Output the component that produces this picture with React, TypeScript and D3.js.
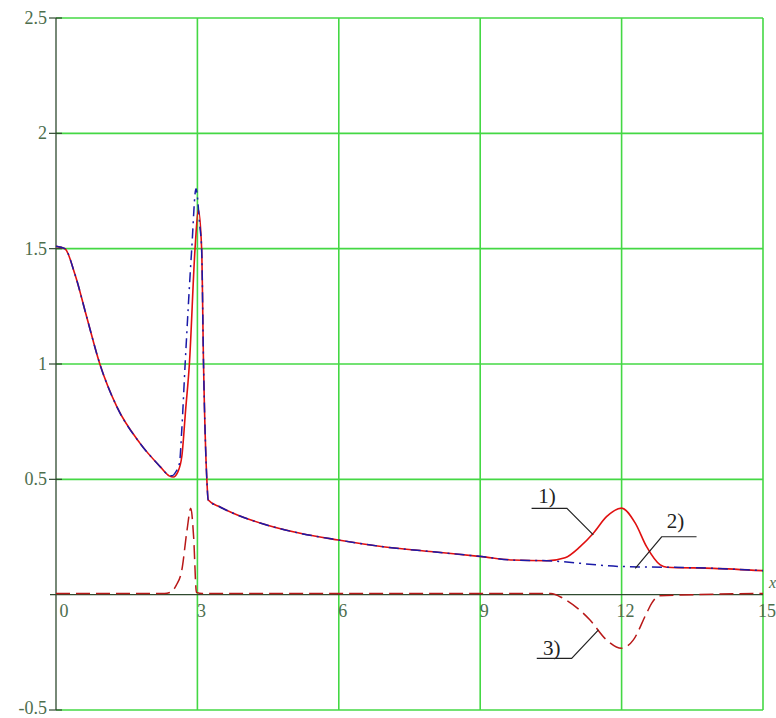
import React, { useEffect, useRef } from 'react';
import * as d3 from 'd3';

// readings, [x, y]
const curveOne: [number, number][] = [
  [0, 1.51], [0.19, 1.5], [0.4, 1.39], [0.65, 1.205], [0.93, 1.0], [1.29, 0.815],
  [1.78, 0.657], [2.21, 0.555], [2.4, 0.515], [2.49, 0.51], [2.58, 0.53], [2.67, 0.6],
  [2.75, 0.8], [2.83, 1.0], [2.95, 1.5], [3.02, 1.67], [3.09, 1.5], [3.13, 1.0],
  [3.2, 0.5], [3.23, 0.41], [3.48, 0.38], [3.76, 0.353], [4.47, 0.302], [5.18, 0.266],
  [5.99, 0.237], [6.94, 0.208], [8.0, 0.186], [9.03, 0.165], [9.7, 0.15], [10.41, 0.147],
  [10.8, 0.16], [11.12, 0.208], [11.4, 0.266], [11.68, 0.338], [12.0, 0.375], [12.29, 0.31],
  [12.53, 0.208], [12.82, 0.129], [12.96, 0.119], [13.95, 0.114], [15, 0.104]
];

const curveTwo: [number, number][] = [
  [0, 1.51], [0.19, 1.5], [0.4, 1.39], [0.65, 1.205], [0.93, 1.0], [1.29, 0.815],
  [1.78, 0.657], [2.21, 0.555], [2.38, 0.52], [2.45, 0.515], [2.55, 0.535], [2.62, 0.57],
  [2.67, 0.72], [2.74, 1.0], [2.88, 1.5], [2.97, 1.76], [3.05, 1.6], [3.09, 1.5],
  [3.13, 1.0], [3.2, 0.5], [3.23, 0.41], [3.48, 0.38], [3.76, 0.353], [4.47, 0.302],
  [5.18, 0.266], [5.99, 0.237], [6.94, 0.208], [8.0, 0.186], [9.03, 0.165], [9.7, 0.15],
  [10.41, 0.147], [12.0, 0.122], [12.96, 0.119], [13.95, 0.114], [15, 0.104]
];

const curveThree: [number, number][] = [
  [0, 0.005], [2.3, 0.005], [2.42, 0.01], [2.55, 0.04], [2.67, 0.107], [2.78, 0.28],
  [2.86, 0.375], [2.92, 0.25], [2.98, 0.01], [3.1, 0.005], [10.5, 0.005], [10.76, -0.016],
  [11.33, -0.11], [11.68, -0.196], [12.0, -0.232], [12.25, -0.196], [12.53, -0.08],
  [12.64, -0.037], [12.8, -0.005], [15, 0.005]
];

const xTicks = [0, 3, 6, 9, 12, 15];
const yTicks = [-0.5, 0.5, 1, 1.5, 2, 2.5];

// label text, text anchor, elbow, end on curve, far end of underline
const notes = [
  { text: '1)', tx: 10.23, ty: 0.397, x0: 10.09, y0: 0.374, x1: 10.84, x2: 11.4, y2: 0.259 },
  { text: '2)', tx: 12.96, ty: 0.289, x0: 13.59, y0: 0.251, x1: 12.85, x2: 12.29, y2: 0.114 },
  { text: '3)', tx: 10.33, ty: -0.261, x0: 10.2, y0: -0.276, x1: 10.94, x2: 11.51, y2: -0.153 }
];

const W = 776;
const H = 718;
const GRID = '#44d844';
const AXIS = '#2f4a2f';
const LABEL = '#4d6e4d';
const SERIF = "'Liberation Serif', 'Times New Roman', serif";

export default function App() {
  const ref = useRef<SVGSVGElement>(null);

  useEffect(() => {
    const svg = d3.select(ref.current);
    svg.selectAll('*').remove();

    const x = d3.scaleLinear().domain([0, 15]).range([56, 763]);
    const y = d3.scaleLinear().domain([-0.5, 2.5]).range([710, 18]);

    const g = svg.append('g');

    // grid
    g.selectAll('line.hgrid')
      .data(yTicks)
      .enter().append('line')
      .attr('x1', x(0)).attr('x2', x(15))
      .attr('y1', (d) => y(d)).attr('y2', (d) => y(d))
      .attr('stroke', GRID).attr('stroke-width', 1.6);

    g.selectAll('line.vgrid')
      .data(xTicks.filter((d) => d > 0))
      .enter().append('line')
      .attr('x1', (d) => x(d)).attr('x2', (d) => x(d))
      .attr('y1', y(2.5)).attr('y2', y(-0.5))
      .attr('stroke', GRID).attr('stroke-width', 1.6);

    // axes
    g.append('line')
      .attr('x1', x(0)).attr('x2', x(0))
      .attr('y1', y(2.5)).attr('y2', y(-0.5))
      .attr('stroke', AXIS).attr('stroke-width', 1.3);
    g.append('line')
      .attr('x1', x(0) - 6).attr('x2', x(15))
      .attr('y1', y(0)).attr('y2', y(0))
      .attr('stroke', AXIS).attr('stroke-width', 1.3);

    g.selectAll('line.ytick')
      .data(yTicks)
      .enter().append('line')
      .attr('x1', x(0) - 7).attr('x2', x(0) + 6)
      .attr('y1', (d) => y(d)).attr('y2', (d) => y(d))
      .attr('stroke', AXIS).attr('stroke-width', 1.2);

    g.selectAll('text.ylab')
      .data(yTicks)
      .enter().append('text')
      .attr('x', x(0) - 9)
      .attr('y', (d) => y(d) + (d === -0.5 ? 4 : 6))
      .attr('text-anchor', 'end')
      .style('font-family', SERIF)
      .style('font-size', '18px')
      .attr('fill', LABEL)
      .text((d) => (d === -0.5 ? '-0.5' : String(d)));

    g.selectAll('text.xlab')
      .data(xTicks)
      .enter().append('text')
      .attr('x', (d) => x(d) + (d === 0 ? 8 : 4))
      .attr('y', y(0) + 22)
      .attr('text-anchor', 'middle')
      .style('font-family', SERIF)
      .style('font-size', '18px')
      .attr('fill', LABEL)
      .text((d) => String(d));

    g.append('text')
      .attr('x', x(15) + 6)
      .attr('y', y(0) - 7)
      .style('font-family', SERIF)
      .style('font-size', '16px')
      .style('font-style', 'italic')
      .attr('fill', LABEL)
      .text('x');

    const line = d3.line<[number, number]>()
      .x((d) => x(d[0]))
      .y((d) => y(d[1]))
      .curve(d3.curveMonotoneX);

    g.append('path')
      .attr('d', line(curveThree))
      .attr('fill', 'none')
      .attr('stroke', '#b81818')
      .attr('stroke-width', 1.5)
      .attr('stroke-dasharray', '14,6');

    g.append('path')
      .attr('d', line(curveOne))
      .attr('fill', 'none')
      .attr('stroke', '#e01010')
      .attr('stroke-width', 1.6);

    g.append('path')
      .attr('d', line(curveTwo))
      .attr('fill', 'none')
      .attr('stroke', '#1a1aa8')
      .attr('stroke-width', 1.5)
      .attr('stroke-dasharray', '10,5,2,5');

    // callouts
    notes.forEach((n) => {
      g.append('polyline')
        .attr('points', `${x(n.x0)},${y(n.y0)} ${x(n.x1)},${y(n.y0)} ${x(n.x2)},${y(n.y2)}`)
        .attr('fill', 'none')
        .attr('stroke', '#222')
        .attr('stroke-width', 1.2);
      g.append('text')
        .attr('x', x(n.tx))
        .attr('y', y(n.ty))
        .style('font-family', SERIF)
        .style('font-size', '21px')
        .attr('fill', '#222')
        .text(n.text);
    });
  }, []);

  return (
    <div style={{ position: 'absolute', left: 0, top: 0, width: W, height: H, background: '#fff' }}>
      <svg ref={ref} width={W} height={H} />
    </div>
  );
}
